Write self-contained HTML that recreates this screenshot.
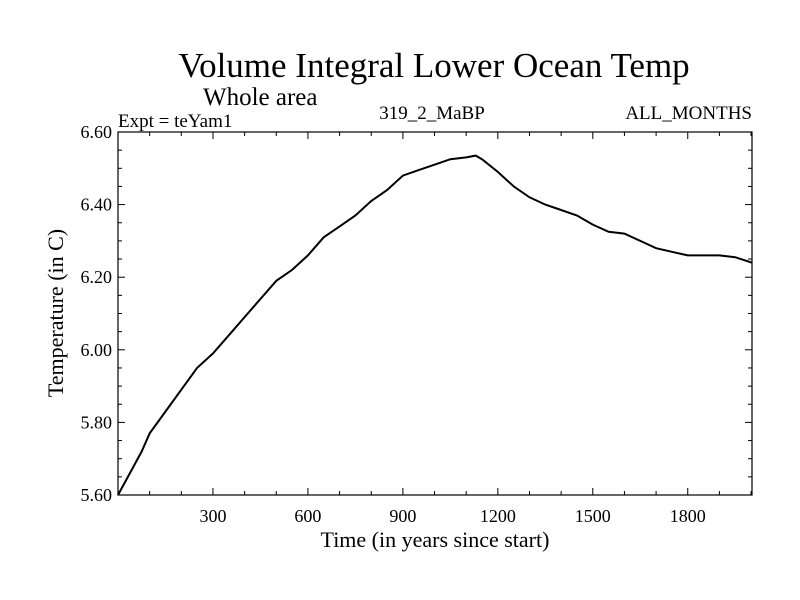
<!DOCTYPE html>
<html><head><meta charset="utf-8"><style>
html,body{margin:0;padding:0;background:#fff;}
svg{display:block;font-family:"Liberation Serif",serif;}
</style></head><body>
<svg id="chart" width="800" height="600">
<text x="434" y="77" font-size="35" text-anchor="middle">Volume Integral Lower Ocean Temp</text>
<text x="203" y="105" font-size="25">Whole area</text>
<text x="118" y="127" font-size="19">Expt = teYam1</text>
<text x="432" y="119" font-size="19" text-anchor="middle">319_2_MaBP</text>
<text x="752" y="119" font-size="19" text-anchor="end">ALL_MONTHS</text>
<text x="435" y="547" font-size="22" text-anchor="middle">Time (in years since start)</text>
<text transform="translate(63,313) rotate(-90)" font-size="22" text-anchor="middle">Temperature (in C)</text>
<g id="axes"></g>
<g id="series"></g>
</svg>
<script>
const years=[0,25,50,75,100,150,200,250,300,350,400,450,500,550,600,650,700,750,800,850,900,950,1000,1050,1100,1130,1150,1200,1250,1300,1350,1400,1450,1500,1550,1600,1650,1700,1750,1800,1850,1900,1950,2003];
const temps=[5.60,5.64,5.68,5.72,5.77,5.83,5.89,5.95,5.99,6.04,6.09,6.14,6.19,6.22,6.26,6.31,6.34,6.37,6.41,6.44,6.48,6.495,6.51,6.525,6.53,6.535,6.525,6.49,6.45,6.42,6.40,6.385,6.37,6.345,6.325,6.32,6.30,6.28,6.27,6.26,6.26,6.26,6.255,6.24];
const xTicks=[300,600,900,1200,1500,1800];
const yTicks=[5.60,5.80,6.00,6.20,6.40,6.60];
const NS="http://www.w3.org/2000/svg";
const L=118,R=752,T=132,B=495,X0=0,X1=2003,Y0=5.6,Y1=6.6;
function sx(v){return L+(v-X0)/(X1-X0)*(R-L);}
function sy(v){return B-(v-Y0)/(Y1-Y0)*(B-T);}
const axes=document.getElementById('axes');
function mk(tag,attrs,parent){const e=document.createElementNS(NS,tag);for(const k in attrs)e.setAttribute(k,attrs[k]);parent.appendChild(e);return e;}
const frame=mk('rect',{x:L,y:T,width:R-L,height:B-T,fill:'none',stroke:'#000','stroke-width':1.2},axes);


for(let v=100;v<X1;v+=100){
  const major=v%300===0;const len=major?7:4;
  const t1=mk('line',{x1:sx(v),x2:sx(v),y1:B,y2:B-len,stroke:'#000'},axes);
  
  
  const t2=mk('line',{x1:sx(v),x2:sx(v),y1:T,y2:T+len,stroke:'#000'},axes);
  
  
}
for(let i=1;i<20;i++){
  const v=Y0+i*0.05;const major=i%4===0;const len=major?7:4;
  const t1=mk('line',{x1:L,x2:L+len,y1:sy(v),y2:sy(v),stroke:'#000'},axes);
  
  
  const t2=mk('line',{x1:R,x2:R-len,y1:sy(v),y2:sy(v),stroke:'#000'},axes);
  
  
}
xTicks.forEach(v=>{
  const t=mk('text',{x:sx(v),y:B+27,'font-size':18,'text-anchor':'middle'},axes);
  t.textContent=v;
  
  
});
yTicks.forEach(v=>{
  const t=mk('text',{x:L-6,y:sy(v)+6,'font-size':18,'text-anchor':'end'},axes);
  t.textContent=v.toFixed(2);
  
  
});
const d=years.map((y,i)=>(i?'L':'M')+sx(y).toFixed(1)+' '+sy(temps[i]).toFixed(1)).join(' ');
const p=mk('path',{d:d,fill:'none',stroke:'#000','stroke-width':2},document.getElementById('series'));


</script>
</body></html>
